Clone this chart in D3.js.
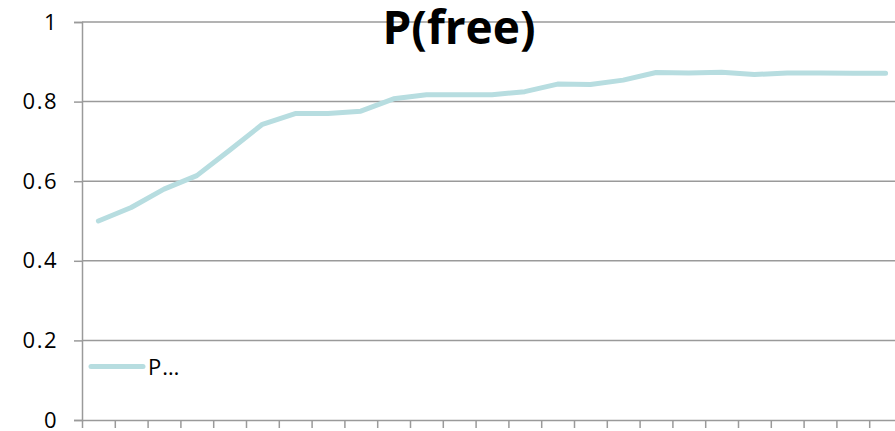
<!DOCTYPE html>
<html>
<head>
<meta charset="utf-8">
<script src="https://cdn.jsdelivr.net/npm/d3@7"></script>
<style>
  html, body { margin: 0; padding: 0; background: #fff; }
  svg { display: block; }
  text { font-family: "Open Sans", "DejaVu Sans", sans-serif; fill: #000; }
</style>
</head>
<body>
<svg id="chart" width="895" height="431"></svg>
<script>
const categories = d3.range(1, 26);
const seriesName = "P(free)";
const legendLabel = "P…";
const values = [0.500, 0.534, 0.580, 0.614, 0.678, 0.743, 0.770, 0.770, 0.776, 0.807,
                0.817, 0.817, 0.817, 0.825, 0.844, 0.843, 0.854, 0.873, 0.872, 0.874,
                0.868, 0.872, 0.872, 0.871, 0.871];
const yTicks = [0, 0.2, 0.4, 0.6, 0.8, 1];
const yTickLabels = ["0", "0.2", "0.4", "0.6", "0.8", "1"];

const svg = d3.select("#chart");
const plotLeft = 82, plotRight = 902, plotTop = 22, plotBottom = 420;
const lineColor = "#b7dde0";
const gridColor = "#9a9a9a";

const x = d3.scaleBand().domain(categories).range([plotLeft, plotRight]).padding(0);
const xEdges = d3.scaleLinear().domain([0, categories.length]).range([plotLeft, plotRight]);
const y = d3.scaleLinear().domain([0, 1]).range([plotBottom, plotTop]);

// gridlines
svg.append("g")
  .selectAll("line")
  .data(yTicks.filter(d => d > 0))
  .join("line")
  .attr("x1", plotLeft).attr("x2", 895)
  .attr("y1", d => y(d)).attr("y2", d => y(d))
  .attr("stroke", gridColor).attr("stroke-width", 1.5);

// y axis
const yAxis = d3.axisLeft(y).tickValues(yTicks)
  .tickFormat((d, i) => yTickLabels[i]).tickSize(8).tickPadding(16);
const gy = svg.append("g").attr("transform", `translate(${plotLeft},0)`).call(yAxis);
gy.select(".domain").attr("stroke", gridColor).attr("stroke-width", 1.5);
gy.selectAll(".tick line").attr("stroke", gridColor).attr("stroke-width", 1.5);
gy.selectAll(".tick text").style("font-size", "22px").attr("fill", "#000")
  .style("letter-spacing", "1.5px")
  .style("font-family", "'Open Sans', 'DejaVu Sans', sans-serif");

// x axis
const xAxis = d3.axisBottom(xEdges).tickValues(d3.range(0, categories.length + 1))
  .tickFormat("").tickSize(8).tickSizeOuter(0);
const gx = svg.append("g").attr("transform", `translate(0,${plotBottom})`).call(xAxis);
gx.select(".domain").attr("stroke", gridColor).attr("stroke-width", 1.5);
gx.selectAll(".tick line").attr("stroke", gridColor).attr("stroke-width", 1.5);

// line
const line = d3.line()
  .x((d, i) => x(categories[i]) + x.bandwidth() / 2)
  .y(d => y(d));
svg.append("path")
  .datum(values)
  .attr("d", line)
  .attr("fill", "none")
  .attr("stroke", lineColor)
  .attr("stroke-width", 5)
  .attr("stroke-linejoin", "round")
  .attr("stroke-linecap", "round");

// title
svg.append("text")
  .attr("x", 459).attr("y", 44)
  .attr("text-anchor", "middle")
  .style("font-size", "46px").style("font-weight", "bold")
  .text(seriesName);

// legend
svg.append("line")
  .attr("x1", 91).attr("x2", 143).attr("y1", 366.5).attr("y2", 366.5)
  .attr("stroke", lineColor).attr("stroke-width", 5).attr("stroke-linecap", "round");
svg.append("text")
  .attr("x", 148).attr("y", 374.5)
  .style("font-size", "22px")
  .style("letter-spacing", "1px")
  .text(legendLabel);
</script>
</body>
</html>
